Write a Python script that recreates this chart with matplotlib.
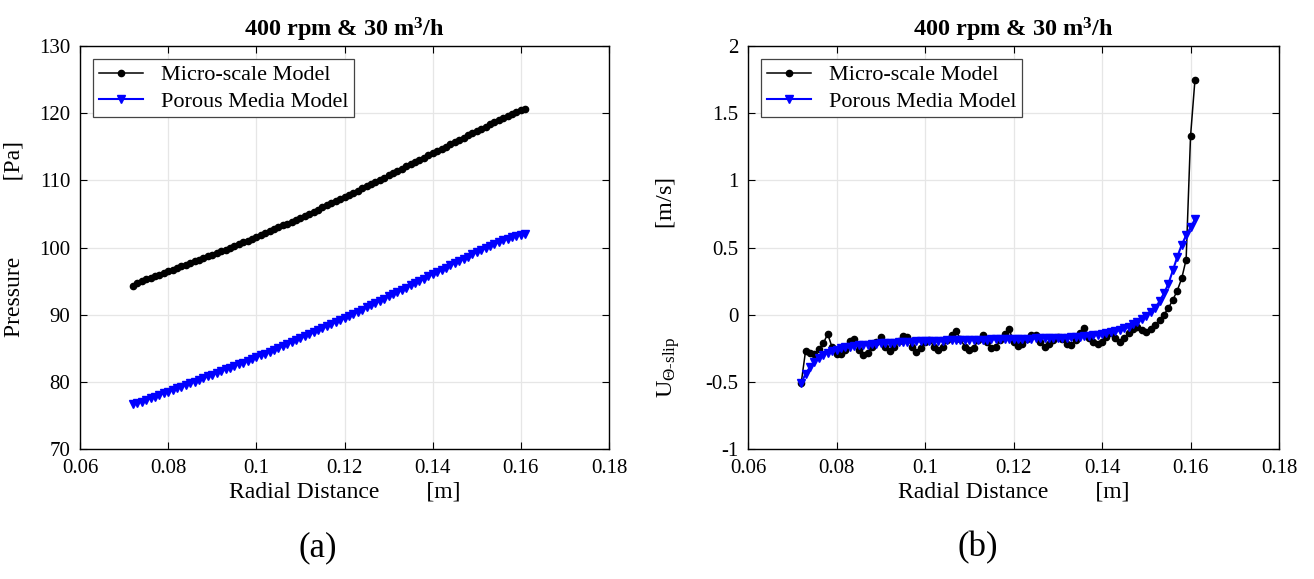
import matplotlib
matplotlib.use('Agg')
import matplotlib.pyplot as plt

plt.rcParams['font.family'] = ['Liberation Serif', 'DejaVu Serif']
plt.rcParams['mathtext.fontset'] = 'custom'
plt.rcParams['mathtext.rm'] = 'Liberation Serif'
plt.rcParams['mathtext.it'] = 'Liberation Serif:italic'
plt.rcParams['mathtext.bf'] = 'Liberation Serif:bold'
plt.rcParams['mathtext.default'] = 'regular'

# radial positions [mm]
r_mm = [72, 73, 74, 75, 76, 77, 78, 79, 80, 81, 82, 83, 84, 85, 86, 87, 88, 89, 90, 91,
        92, 93, 94, 95, 96, 97, 98, 99, 100, 101, 102, 103, 104, 105, 106, 107, 108, 109, 110, 111,
        112, 113, 114, 115, 116, 117, 118, 119, 120, 121, 122, 123, 124, 125, 126, 127, 128, 129, 130, 131,
        132, 133, 134, 135, 136, 137, 138, 139, 140, 141, 142, 143, 144, 145, 146, 147, 148, 149, 150, 151,
        152, 153, 154, 155, 156, 157, 158, 159, 160, 161]
r = [v / 1000 for v in r_mm]

# (a) pressure [Pa]
p_micro = [94.3, 94.75, 95.0, 95.25, 95.5, 95.7, 95.95, 96.2, 96.45, 96.7,
           96.95, 97.2, 97.45, 97.7, 97.95, 98.2, 98.45, 98.7, 98.95, 99.2,
           99.45, 99.7, 99.95, 100.2, 100.48, 100.76, 101.04, 101.32, 101.6, 101.88,
           102.16, 102.44, 102.72, 103.0, 103.28, 103.56, 103.86, 104.16, 104.46, 104.76,
           105.06, 105.36, 105.66, 105.96, 106.27, 106.58, 106.89, 107.2, 107.51, 107.83,
           108.15, 108.47, 108.79, 109.11, 109.43, 109.76, 110.09, 110.42, 110.75, 111.08,
           111.41, 111.74, 112.07, 112.4, 112.73, 113.06, 113.39, 113.72, 114.05, 114.38,
           114.71, 115.04, 115.37, 115.7, 116.03, 116.36, 116.69, 117.02, 117.35, 117.68,
           118.0, 118.32, 118.64, 118.95, 119.25, 119.55, 119.85, 120.15, 120.45, 120.65]
p_porous = [76.7, 76.85, 77.05, 77.3, 77.55, 77.8, 78.05, 78.3, 78.55, 78.8,
            79.05, 79.3, 79.55, 79.8, 80.05, 80.3, 80.55, 80.8, 81.06, 81.32,
            81.58, 81.84, 82.1, 82.36, 82.62, 82.88, 83.14, 83.41, 83.68, 83.95,
            84.22, 84.5, 84.78, 85.06, 85.34, 85.62, 85.9, 86.19, 86.48, 86.77,
            87.06, 87.36, 87.66, 87.96, 88.26, 88.56, 88.87, 89.18, 89.49, 89.8,
            90.12, 90.44, 90.76, 91.08, 91.4, 91.73, 92.06, 92.39, 92.72, 93.05,
            93.38, 93.71, 94.04, 94.37, 94.7, 95.03, 95.36, 95.69, 96.02, 96.35,
            96.68, 97.01, 97.34, 97.67, 98.0, 98.33, 98.65, 98.97, 99.29, 99.6,
            99.9, 100.2, 100.5, 100.78, 101.05, 101.3, 101.53, 101.74, 101.92, 102.08]

# (b) slip velocity [m/s]
u_micro = [-0.511, -0.268, -0.288, -0.293, -0.258, -0.213, -0.144, -0.243, -0.293, -0.293,
           -0.263, -0.193, -0.183, -0.263, -0.300, -0.288, -0.238, -0.201, -0.168, -0.238,
           -0.268, -0.238, -0.193, -0.159, -0.168, -0.238, -0.276, -0.250, -0.201, -0.188,
           -0.238, -0.263, -0.238, -0.188, -0.151, -0.119, -0.183, -0.238, -0.263, -0.250,
           -0.188, -0.151, -0.201, -0.250, -0.238, -0.188, -0.144, -0.109, -0.201, -0.233,
           -0.218, -0.183, -0.151, -0.151, -0.201, -0.238, -0.218, -0.188, -0.164, -0.183,
           -0.218, -0.226, -0.188, -0.139, -0.101, -0.176, -0.201, -0.221, -0.201, -0.164,
           -0.139, -0.176, -0.201, -0.176, -0.139, -0.109, -0.094, -0.114, -0.126, -0.109,
           -0.077, -0.040, 0.0, 0.05, 0.11, 0.18, 0.27, 0.41, 1.33, 1.75]
u_porous = [-0.51, -0.44, -0.39, -0.35, -0.32, -0.30, -0.285, -0.27, -0.26, -0.25,
            -0.243, -0.237, -0.232, -0.228, -0.225, -0.222, -0.219, -0.216, -0.214, -0.212,
            -0.210, -0.208, -0.206, -0.204, -0.202, -0.200, -0.199, -0.198, -0.197, -0.196,
            -0.195, -0.194, -0.193, -0.192, -0.191, -0.190, -0.189, -0.188, -0.188, -0.187,
            -0.186, -0.185, -0.185, -0.184, -0.183, -0.183, -0.182, -0.181, -0.180, -0.180,
            -0.179, -0.178, -0.178, -0.177, -0.176, -0.175, -0.174, -0.173, -0.172, -0.171,
            -0.170, -0.168, -0.166, -0.164, -0.161, -0.158, -0.154, -0.150, -0.145, -0.139,
            -0.132, -0.124, -0.114, -0.102, -0.088, -0.072, -0.054, -0.033, -0.010, 0.018,
            0.050, 0.10, 0.16, 0.23, 0.33, 0.43, 0.52, 0.59, 0.65, 0.71]

title = r'400 rpm & 30 m$^{3}$/h'
fs = 15

fig = plt.figure(figsize=(13.14, 5.79), dpi=100)
ax1 = fig.add_axes([0.0609, 0.2245, 0.4026, 0.696])
ax2 = fig.add_axes([0.5693, 0.2245, 0.4041, 0.696])

for ax, ym, yp in [(ax1, p_micro, p_porous), (ax2, u_micro, u_porous)]:
    ax.plot(r, ym, 'k-', marker='o', markersize=4.5, linewidth=1.1, label='Micro-scale Model')
    ax.plot(r, yp, color='blue', marker='v', markersize=5.5, linewidth=1.5, label='Porous Media Model')
    ax.set_xlim(0.06, 0.18)
    ax.set_xticks([0.06, 0.08, 0.1, 0.12, 0.14, 0.16, 0.18])
    ax.set_xticklabels(['0.06', '0.08', '0.1', '0.12', '0.14', '0.16', '0.18'])
    ax.grid(True, color='#e6e6e6', linewidth=0.9)
    ax.set_axisbelow(True)
    ax.tick_params(direction='in', top=True, right=True, labelsize=fs, length=5, width=0.8)
    ax.tick_params(axis='x', pad=7)
    ax.tick_params(axis='y', pad=7)
    for s in ax.spines.values():
        s.set_linewidth(1.0)
    ax.set_title(title, fontsize=17.5, fontweight='bold', pad=7)
    ax.set_xlabel('Radial Distance        [m]', fontsize=17, labelpad=3)
    leg = ax.legend(loc='upper left', fontsize=16, frameon=True, fancybox=False,
                    edgecolor='#444444', framealpha=1, borderpad=0.25, labelspacing=0.25,
                    handlelength=2.0, borderaxespad=0.6)
    leg.get_frame().set_linewidth(0.9)

ax1.set_ylim(70, 130)
ax1.set_yticks([70, 80, 90, 100, 110, 120, 130])
ax1.set_ylabel('Pressure             [Pa]', fontsize=17)
ax1.yaxis.set_label_coords(-0.105, 0.52)

ax2.set_ylim(-1, 2)
ax2.set_yticks([-1, -0.5, 0, 0.5, 1, 1.5, 2])
ax2.set_yticklabels(['-1', '-0.5', '0', '0.5', '1', '1.5', '2'])
ax2.set_ylabel(r'U$_{\Theta\text{-slip}}$                  [m/s]', fontsize=17.5)
ax2.yaxis.set_label_coords(-0.125, 0.40)

fig.text(0.242, 0.04, '(a)', fontsize=25, ha='center')
fig.text(0.744, 0.04, '(b)', fontsize=25, ha='center')

fig.savefig('out.png', dpi=100)
